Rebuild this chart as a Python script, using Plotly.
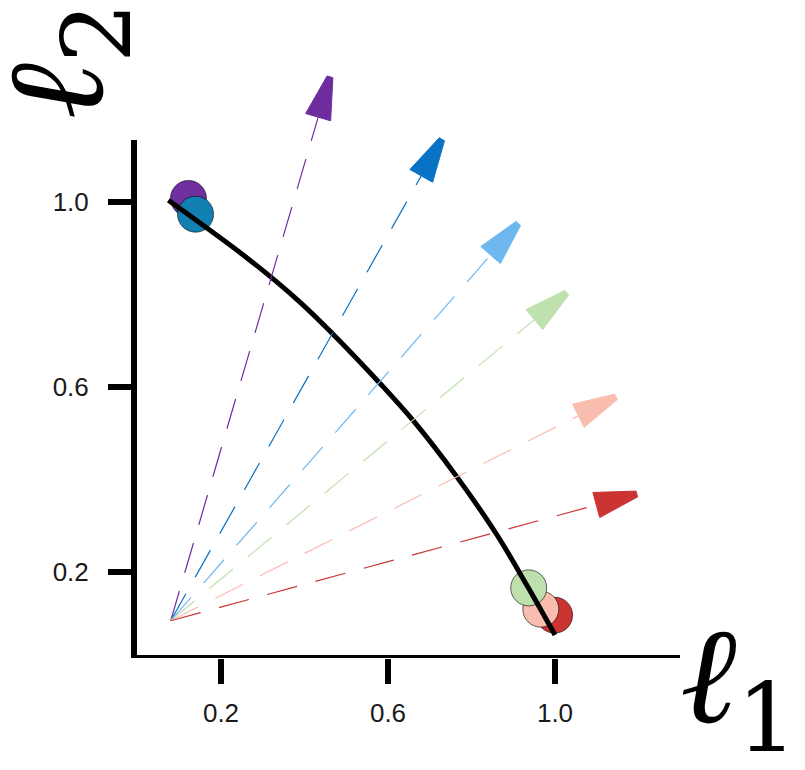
import plotly.graph_objects as go

# pareto front (l1 vs l2)
front_l1 = [0.074, 0.270, 0.389, 0.469, 0.581, 0.661, 0.765, 0.860, 0.933, 1.000]
front_l2 = [1.003, 0.873, 0.783, 0.713, 0.607, 0.526, 0.405, 0.281, 0.170, 0.063]

# preference rays, all starting from one reference point
ray_origin_l1 = 0.0795
ray_origin_l2 = 0.094
ray_tip_l1 = [0.461, 0.729, 0.912, 1.028, 1.146, 1.196]
ray_tip_l2 = [1.270, 1.135, 0.953, 0.803, 0.578, 0.368]
ray_colors = ["#6f2c9e", "#0872c4", "#6fb8ef", "#bfe1ae", "#f8bdae", "#cc3434"]

# solutions found for each preference
sol_l1 = [0.122, 0.139, 0.999, 0.966, 0.937]
sol_l2 = [1.007, 0.973, 0.106, 0.119, 0.165]
sol_colors = ["#7030a0", "#1280b3", "#cc3434", "#f8bdae", "#bde0ae"]

x_ticks = [0.2, 0.6, 1.0]
y_ticks = [0.2, 0.6, 1.0]

x_range = [-0.0084, 1.2994]
y_range = [0.0134, 1.3929]
y_axis_top = 1.1334

W, H = 797, 762
margin = dict(l=126, r=125, t=12, b=112)
# pixels per data unit, used to give the arrowheads a fixed on-screen shape
px_x = (W - margin["l"] - margin["r"]) / (x_range[1] - x_range[0])
px_y = (H - margin["t"] - margin["b"]) / (y_range[1] - y_range[0])
head_len, head_half, tip_half = 42, 13, 3

fig = go.Figure()

for x, y, c in zip(sol_l1, sol_l2, sol_colors):
    fig.add_trace(
        go.Scatter(
            x=[x],
            y=[y],
            mode="markers",
            marker=dict(size=36, color=c, line=dict(color="rgba(0,0,0,0.6)", width=1)),
            showlegend=False,
            hoverinfo="skip",
        )
    )

fig.add_trace(
    go.Scatter(
        x=front_l1,
        y=front_l2,
        mode="lines",
        line=dict(color="black", width=5, shape="spline", smoothing=1.0),
        showlegend=False,
    )
)

for x, y, c in zip(ray_tip_l1, ray_tip_l2, ray_colors):
    # direction in screen pixels
    dx = (x - ray_origin_l1) * px_x
    dy = (y - ray_origin_l2) * px_y
    n = (dx * dx + dy * dy) ** 0.5
    ux, uy = dx / n, dy / n
    px_, py_ = -uy, ux
    bx, by = x - ux * head_len / px_x, y - uy * head_len / px_y
    head_x = [
        x + px_ * tip_half / px_x,
        bx + px_ * head_half / px_x,
        bx - px_ * head_half / px_x,
        x - px_ * tip_half / px_x,
        x + px_ * tip_half / px_x,
    ]
    head_y = [
        y + py_ * tip_half / px_y,
        by + py_ * head_half / px_y,
        by - py_ * head_half / px_y,
        y - py_ * tip_half / px_y,
        y + py_ * tip_half / px_y,
    ]
    fig.add_trace(
        go.Scatter(
            x=[ray_origin_l1, bx],
            y=[ray_origin_l2, by],
            mode="lines",
            line=dict(color=c, width=1.2, dash="31px,19px"),
            showlegend=False,
        )
    )
    fig.add_trace(
        go.Scatter(
            x=head_x,
            y=head_y,
            mode="lines",
            fill="toself",
            fillcolor=c,
            line=dict(color=c, width=1),
            showlegend=False,
        )
    )

axis_style = dict(
    ticks="outside",
    ticklen=25,
    tickwidth=5.5,
    tickcolor="black",
    showline=False,
    showgrid=False,
    zeroline=False,
)
fig.update_xaxes(
    range=x_range,
    tickvals=x_ticks,
    ticktext=[f"{v:.1f}" for v in x_ticks],
    ticklabelstandoff=7,
    **axis_style,
)
fig.update_yaxes(
    range=y_range,
    tickvals=y_ticks,
    ticktext=[f"{v:.1f}" for v in y_ticks],
    ticklabelstandoff=14,
    **axis_style,
)

label_font = dict(family="DejaVu Serif, serif", size=136, color="black")
fig.update_layout(
    width=W,
    height=H,
    margin=margin,
    plot_bgcolor="white",
    paper_bgcolor="white",
    font=dict(family="Liberation Sans, Arial, sans-serif", size=26, color="#1a1a1a"),
    shapes=[
        dict(type="line", xref="paper", yref="y", x0=-0.0055, x1=1,
             y0=y_range[0], y1=y_range[0], line=dict(color="black", width=6)),
        dict(type="line", xref="paper", yref="y", x0=0, x1=0,
             y0=y_range[0] - 0.0065, y1=y_axis_top, line=dict(color="black", width=6)),
    ],
    annotations=[
        dict(text="<i>ℓ</i><sub>1</sub>", xref="paper", yref="paper", x=1.108, y=-0.042,
             xanchor="center", yanchor="middle", showarrow=False, font=label_font),
        dict(text="<i>ℓ</i><sub>2</sub>", xref="paper", yref="paper", x=-0.128, y=0.935,
             xanchor="center", yanchor="middle", showarrow=False, textangle=-90,
             font=label_font),
    ],
)

fig.write_html("out.html")
